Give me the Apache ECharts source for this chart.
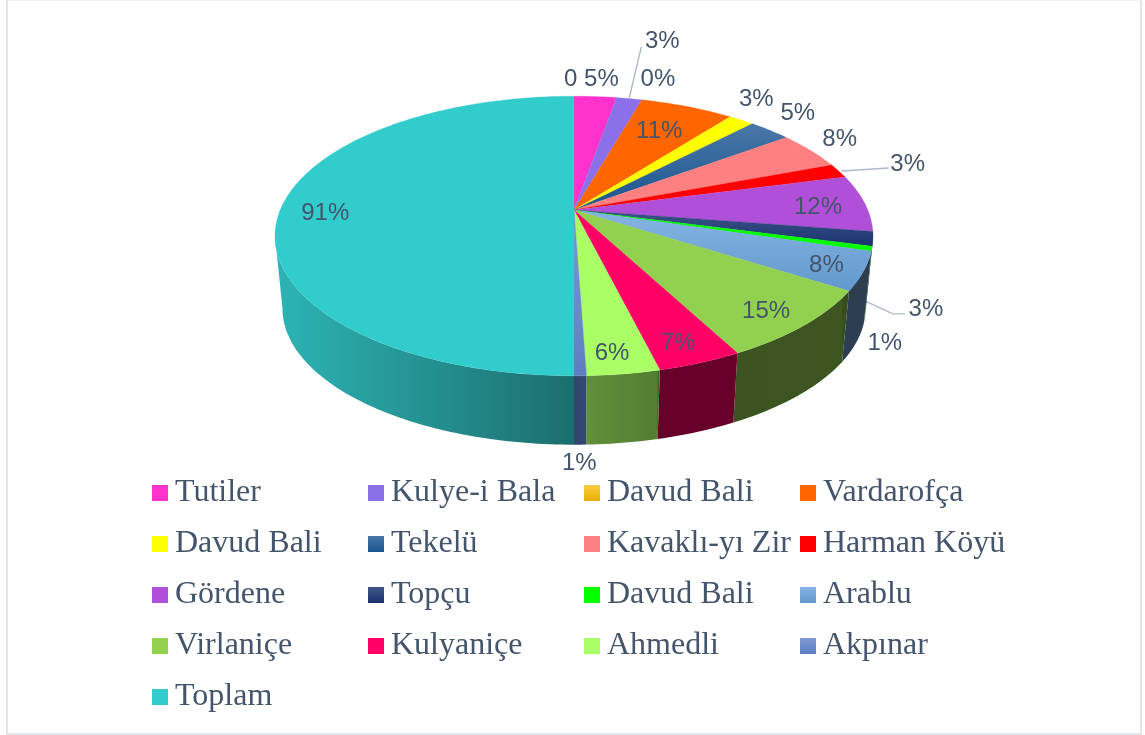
<!DOCTYPE html>
<html>
<head>
<meta charset="utf-8">
<style>html,body{margin:0;padding:0;background:#fff}#c{width:1145px;height:735px}</style>
<script src="https://cdn.jsdelivr.net/npm/echarts@6/dist/echarts.min.js"></script>
</head>
<body>
<div id="c"></div>
<script>
// ---- data ----
const categories = ['Tutiler','Kulye-i Bala','Davud Bali','Vardarofça','Davud Bali','Tekelü','Kavaklı-yı Zir','Harman Köyü','Gördene','Topçu','Davud Bali','Arablu','Virlaniçe','Kulyaniçe','Ahmedli','Akpınar','Toplam'];
const values = [5,3,0,11,3,5,8,3,12,3,1,8,15,7,6,1,91];
const labelTexts = ['0 5%','3%','0%','11%','3%','5%','8%','3%','12%','3%','1%','8%','15%','7%','6%','1%','91%'];

// ---- styles ----
const colorsTop = ['#ff33cc','#8c70ea','#ffcb40','#ff6600','#ffff00','#4a77a6','#ff8080','#ff0000','#b04fd8','#3f5688','#00ff00','#86b6e4','#92d050','#ff0066','#aaff66','#7f9ad4','#33cccc'];
const colorsBottom = ['#ff33cc','#8c70ea','#e6ad00','#ff6600','#ffff00','#1a5490','#ff8080','#ff0000','#b04fd8','#1a3370','#00ff00','#6298cc','#92d050','#ff0066','#aaff66','#5c7ec2','#33cccc'];
const sideBase = ['#ff33cc','#8c70ea','#ffc000','#ff6600','#ffff00','#1f5a96','#ff8080','#ff0000','#b04fd8','#1f3a78','#00ff00','#78a8d8','#92d050','#ff0066','#aaff66','#5c80c8','#33cccc'];
// brightness of the rim by screen position: [x, factor]
const rimShade = [[275,.88],[574,.54],[584,.57],[657,.49],[658,.40],[842,.41],[843,.37],[873,.37]];
// label offset from the slice's rim midpoint
const labelOffsets = [[-4,-17],[33,-57.5],[16,-20.5],[-28,25],[15,-20.5],[28,-16.5],[29,-11],[69,-6.5],[-46.6,4.5],[53,70.5],[13,94.5],[-37,-5.5],[-38,-13.5],[-22,-19.5],[-11.5,-20.5],[-1,87.5],[45,3.5]];
// leader lines, offsets from the rim midpoint
const leaderOffsets = {1:[[0,-1],[12,-52]], 7:[[3,0],[50,-3]], 9:[[-6,63],[20,75],[32,75]]};
const textColor = '#44546a';

// ---- pie projection ----
const CX = 574, CY = 210, RX = 293.8, RY = 135, PERSP = 0.186;
const BOTTOM_SCALE = 0.975, BOTTOM_DY = 73;
// the side wall is visible only between the two widest points of the projected rim
const SIDE_FROM = Math.acos(-PERSP) / (2 * Math.PI), SIDE_TO = 1 - SIDE_FROM;
const total = values.reduce((a, b) => a + b, 0);
const starts = [];
values.reduce((acc, v, i) => (starts[i] = acc, acc + v), 0);

function rim(frac, bottom) {
  const t = frac * 2 * Math.PI, a = Math.sin(t), c = Math.cos(t), d = 1 + PERSP * c;
  const k = bottom ? BOTTOM_SCALE : 1, dy = bottom ? BOTTOM_DY : 0;
  return [CX + k * RX * a / d, CY + dy - k * RY * c / d];
}
function arc(f0, f1, bottom) {
  const steps = Math.max(1, Math.ceil((f1 - f0) * 360));
  const pts = [];
  for (let k = 0; k <= steps; k++) pts.push(rim(f0 + (f1 - f0) * k / steps, bottom));
  return pts;
}
function hexScale(hex, f) {
  const n = parseInt(hex.slice(1), 16);
  return 'rgb(' + [(n >> 16) & 255, (n >> 8) & 255, n & 255].map(v => Math.round(v * f)).join(',') + ')';
}
function sideFill(i) {
  const x0 = rimShade[0][0], x1 = rimShade[rimShade.length - 1][0];
  return { type: 'linear', x: x0, y: 0, x2: x1, y2: 0, global: true,
    colorStops: rimShade.map(s => ({ offset: (s[0] - x0) / (x1 - x0), color: hexScale(sideBase[i], s[1]) })) };
}
function topFill(i) {
  return { type: 'linear', x: 0, y: 0, x2: 0, y2: 1,
    colorStops: [{ offset: 0, color: colorsTop[i] }, { offset: 1, color: colorsBottom[i] }] };
}
const keyOf = i => i + '|' + categories[i];

function renderSlice(i, params, api) {
  const v = api.value(0);
  const f0 = starts[i] / total, f1 = (starts[i] + v) / total;
  const children = [];
  if (v > 0) {
    const s0 = Math.max(f0, SIDE_FROM), s1 = Math.min(f1, SIDE_TO);
    if (s1 > s0) {
      children.push({ type: 'polygon', z2: 1, silent: true,
        shape: { points: arc(s0, s1, false).concat(arc(s0, s1, true).reverse()) },
        style: { fill: sideFill(i) } });
    }
    children.push({ type: 'polygon', z2: 5, silent: true,
      shape: { points: [[CX, CY]].concat(arc(f0, f1, false)) },
      style: { fill: topFill(i), stroke: colorsBottom[i], lineWidth: 0.3 } });
  }
  const m = rim((f0 + f1) / 2, false);
  const leader = leaderOffsets[i];
  if (leader) {
    children.push({ type: 'polyline', z2: 8, silent: true,
      shape: { points: leader.map(o => [m[0] + o[0], m[1] + o[1]]) },
      style: { fill: null, stroke: '#adb9ca', lineWidth: 1.4 } });
  }
  children.push({ type: 'text', z2: 10, silent: true,
    style: { text: labelTexts[i], x: m[0] + labelOffsets[i][0], y: m[1] + labelOffsets[i][1],
      align: 'center', verticalAlign: 'middle', fill: textColor,
      font: '24px "Liberation Sans", Arial, sans-serif' } });
  return { type: 'group', children };
}

const chart = echarts.init(document.getElementById('c'), null, { renderer: 'canvas' });
chart.setOption({
  animation: false,
  backgroundColor: '#ffffff',
  graphic: [{ type: 'rect', z: -1, silent: true,
    shape: { x: 7, y: -0.5, width: 1134, height: 734.5 },
    style: { fill: '#ffffff', stroke: '#e2e6ec', lineWidth: 2 } }],
  legend: {
    show: true,
    data: categories.map((c, i) => keyOf(i)),
    left: 152, top: 471.5, width: 870,
    padding: 0,
    orient: 'horizontal',
    itemWidth: 16, itemHeight: 16, itemGap: 8,
    icon: 'rect',
    selectedMode: false,
    formatter: n => n.split('|')[1],
    textStyle: { color: textColor, fontFamily: '"Liberation Serif", "Times New Roman", serif',
      fontSize: 32, width: 185, lineHeight: 35, padding: [8, 0, 0, 2] }
  },
  series: categories.map((c, i) => ({
    type: 'custom',
    name: keyOf(i),
    coordinateSystem: 'none',
    silent: true,
    itemStyle: { color: topFill(i) },
    data: [[values[i]]],
    renderItem: (params, api) => renderSlice(i, params, api)
  }))
});
</script>
</body>
</html>
